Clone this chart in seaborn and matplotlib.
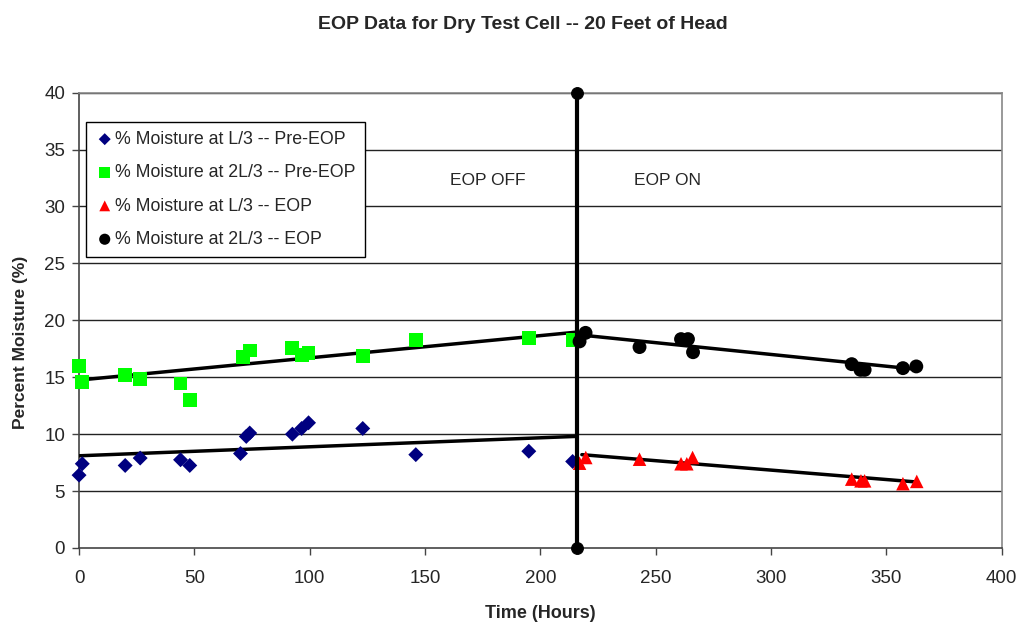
import matplotlib
matplotlib.use("Agg")
import matplotlib.pyplot as plt
import seaborn as sns
import pandas as pd

# ---- data ----
pre_l3_x = [0, 1.4, 20, 26.5, 44, 48, 70, 72.5, 74, 92.5, 96.5, 99.5, 123, 146, 195, 214]
pre_l3_y = [6.4, 7.4, 7.25, 7.9, 7.75, 7.25, 8.3, 9.8, 10.1, 10.0, 10.5, 11.0, 10.5, 8.2, 8.5, 7.6]

pre_2l3_x = [0, 1.4, 20, 26.5, 44, 48, 71, 74, 92.5, 96.5, 99.5, 123, 146, 195, 214]
pre_2l3_y = [16.0, 14.6, 15.2, 14.85, 14.45, 13.0, 16.75, 17.35, 17.55, 16.95, 17.15, 16.9, 18.3, 18.45, 18.3]

eop_l3_x = [217, 219.7, 243, 261, 263.5, 266, 335, 339, 340.6, 357.2, 363.2]
eop_l3_y = [7.45, 7.95, 7.8, 7.4, 7.4, 7.95, 6.05, 5.9, 5.9, 5.65, 5.85]

eop_2l3_x = [217, 219.6, 243, 261, 264, 266.2, 335, 338.8, 340.6, 357.2, 363]
eop_2l3_y = [18.15, 18.9, 17.65, 18.35, 18.35, 17.2, 16.15, 15.65, 15.65, 15.8, 15.95]

# trend line end points
trend_pre_l3_x = [0, 215]
trend_pre_l3_y = [8.1, 9.8]
trend_pre_2l3_x = [0, 215]
trend_pre_2l3_y = [14.75, 18.95]
trend_eop_l3_x = [218, 363]
trend_eop_l3_y = [8.2, 5.8]
trend_eop_2l3_x = [218, 363]
trend_eop_2l3_y = [18.7, 15.7]

# EOP switch-on marker line
switch_x = [216, 216]
switch_y = [0, 40]

labels = ["% Moisture at L/3 -- Pre-EOP", "% Moisture at 2L/3 -- Pre-EOP",
          "% Moisture at L/3 -- EOP", "% Moisture at 2L/3 -- EOP"]
x_ticks = [0, 50, 100, 150, 200, 250, 300, 350, 400]
y_ticks = [0, 5, 10, 15, 20, 25, 30, 35, 40]

sns.set_theme(style="white")
plt.rcParams['font.family'] = ['Liberation Sans', 'DejaVu Sans']

fig = plt.figure(figsize=(10.2, 6.24), dpi=100)
ax = fig.add_axes([0.0775, 0.1218, 0.9045, 0.7297])

# gridlines
for yv in y_ticks[1:]:
    ax.axhline(yv, color="#222222", lw=1.0, zorder=0)

# trend lines
for tx, ty in [(trend_pre_l3_x, trend_pre_l3_y), (trend_pre_2l3_x, trend_pre_2l3_y),
               (trend_eop_l3_x, trend_eop_l3_y), (trend_eop_2l3_x, trend_eop_2l3_y)]:
    sns.lineplot(x=tx, y=ty, ax=ax, color="black", lw=2.5, zorder=3, legend=False)

# vertical switch line
sns.lineplot(x=switch_x, y=switch_y, ax=ax, color="black", lw=3, marker="o",
             markersize=8.5, markeredgecolor="black", zorder=5, legend=False,
             estimator=None, sort=False)
ax.lines[-1].set_clip_on(False)

series = [
    (pre_l3_x, pre_l3_y, "D", "#000080", 58),
    (pre_2l3_x, pre_2l3_y, "s", "#00FF00", 100),
    (eop_l3_x, eop_l3_y, "^", "#FF0000", 95),
    (eop_2l3_x, eop_2l3_y, "o", "black", 100),
]
for (sx, sy, m, c, s), lab in zip(series, labels):
    sns.scatterplot(x=sx, y=sy, ax=ax, marker=m, color=c, s=s, edgecolor="none",
                    label=lab, zorder=4, clip_on=False)

ax.set_xlim(0, 400)
ax.set_ylim(0, 40)
ax.set_xticks(x_ticks)
ax.set_yticks(y_ticks)
ax.tick_params(axis="both", which="major", labelsize=13.5, length=5, width=1,
               color="#444444", direction="out", bottom=True, left=True)
ax.tick_params(axis="x", pad=11)
ax.tick_params(axis="y", pad=5)
for side in ["left", "bottom"]:
    ax.spines[side].set_color("#444444")
    ax.spines[side].set_linewidth(1.2)
for side in ["top", "right"]:
    ax.spines[side].set_color("#888888")
    ax.spines[side].set_linewidth(1.2)

ax.set_xlabel("Time (Hours)", fontsize=13, fontweight="bold", labelpad=13)
ax.set_ylabel("Percent Moisture (%)", fontsize=12.5, fontweight="bold")
ax.yaxis.set_label_coords(-0.055, 0.4525)
fig.suptitle("EOP Data for Dry Test Cell -- 20 Feet of Head", fontsize=14,
             fontweight="bold", x=0.513, y=0.975)

ax.text(177, 32.3, "EOP OFF", fontsize=12.5, ha="center", va="center")
ax.text(255, 32.3, "EOP ON", fontsize=12.5, ha="center", va="center")

leg = ax.legend(loc="upper left", bbox_to_anchor=(0.0076, 0.9357), fontsize=12.8,
                frameon=True, fancybox=False, edgecolor="black", framealpha=1,
                handletextpad=0.05, borderpad=0.5, labelspacing=0.92,
                handlelength=1.1, borderaxespad=0, markerscale=0.8)
leg.get_frame().set_linewidth(1.0)

fig.savefig("out.png", dpi=100)
